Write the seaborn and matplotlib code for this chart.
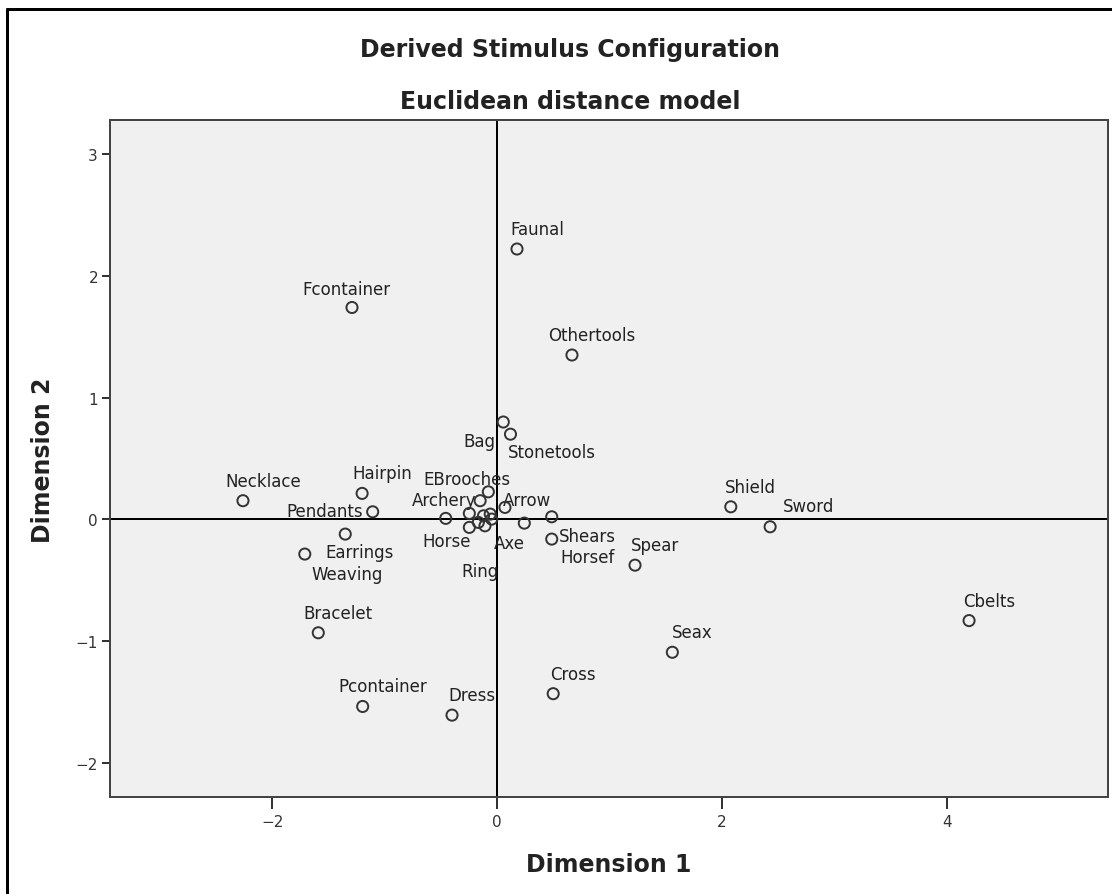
import numpy as np
import pandas as pd
import matplotlib
matplotlib.use('Agg')
import matplotlib.pyplot as plt
import seaborn as sns
from matplotlib.lines import Line2D

# Stimulus coordinates
names = ['Faunal', 'Fcontainer', 'Othertools', 'Bag', 'Stonetools', 'Necklace',
         'Hairpin', 'Pendants', 'Earrings', 'Weaving', 'Bracelet', 'Pcontainer',
         'Dress', 'Cross', 'Seax', 'Spear', 'Shield', 'Sword', 'Cbelts',
         'EBrooches', 'Arrow', 'Horse', 'Archery', 'Ring', 'Axe', 'Shears', 'Horsef',
         '', '', '', '', '', '']
dim1 = [0.178, -1.29, 0.667, 0.056, 0.12, -2.26,
        -1.20, -1.106, -1.35, -1.71, -1.59, -1.195,
        -0.40, 0.50, 1.56, 1.228, 2.08, 2.43, 4.20,
        -0.077, 0.071, -0.456, -0.246, -0.107, 0.243, 0.487, 0.487,
        -0.246, -0.15, -0.06, -0.166, -0.047, -0.12]
dim2 = [2.22, 1.74, 1.35, 0.80, 0.70, 0.154,
        0.214, 0.063, -0.12, -0.284, -0.93, -1.535,
        -1.606, -1.43, -1.09, -0.375, 0.104, -0.06, -0.83,
        0.227, 0.099, 0.009, 0.05, -0.052, -0.03, -0.161, 0.022,
        -0.065, 0.154, 0.044, -0.024, 0.003, 0.03]

x_ticks = [-2, 0, 2, 4]
y_ticks = [-2, -1, 0, 1, 2, 3]

df = pd.DataFrame({'Dimension 1': dim1, 'Dimension 2': dim2, 'name': names})

# label placement (pixels right / down from the point), default up-right
default_off = (20, -20)
label_off = {
    'Fcontainer': (-6, -18), 'Pendants': (-48, -1), 'Earrings': (14, 18),
    'Weaving': (42, 20), 'Bag': (-24, 19), 'Stonetools': (41, 18),
    'EBrooches': (-21, -13), 'Archery': (-25, -13), 'Arrow': (22, -7),
    'Horse': (1, 23), 'Axe': (-15, 20), 'Ring': (-5, 45), 'Shears': (36, -3),
    'Horsef': (36, 40), 'Sword': (38, -21),
}

W, H, DPI = 1112, 895, 100
PX = 72.0 / DPI  # points per pixel

sns.set_style('white')
plt.rcParams['font.family'] = ['DejaVu Sans']

fig = plt.figure(figsize=(W / DPI, H / DPI), dpi=DPI)
ax = fig.add_axes([110 / W, 1 - 798 / H, 998 / W, 677 / H])
ax.set_facecolor('#f0f0f0')

ax.axhline(0, color='black', lw=2 * PX, zorder=1)
ax.axvline(0, color='black', lw=2 * PX, zorder=1)

for n, x, y in zip(names, dim1, dim2):
    if not n:
        continue
    dx, dy = label_off.get(n, default_off)
    ax.annotate(n, (x, y), xytext=(dx * PX, -dy * PX), textcoords='offset points',
                ha='center', va='center', fontsize=12, color='#222222', zorder=2)

sns.scatterplot(data=df, x='Dimension 1', y='Dimension 2', ax=ax,
                marker='o', s=64, facecolors='none', edgecolor='#333333',
                linewidth=1.4, zorder=3, legend=False)

ax.set_xlim(-3.443, 5.436)
ax.set_ylim(-2.278, 3.279)
ax.set_xticks(x_ticks)
ax.set_yticks(y_ticks)
ax.set_xticklabels([str(t).replace('-', '\u2212') for t in x_ticks])
ax.set_yticklabels([str(t).replace('-', '\u2212') for t in y_ticks])
ax.set_xlabel('')
ax.set_ylabel('')
ax.tick_params(axis='x', direction='out', length=12 * PX, width=2 * PX,
               color='#333333', labelsize=11, labelcolor='#333333', pad=5 * PX,
               bottom=True)
ax.tick_params(axis='y', direction='out', length=8 * PX, width=2 * PX,
               color='#333333', labelsize=11, labelcolor='#333333', pad=4 * PX,
               left=True)
for sp in ax.spines.values():
    sp.set_color('#444444')
    sp.set_linewidth(2 * PX)

fig.text(570 / W, 1 - 57 / H, 'Derived Stimulus Configuration', ha='center',
         va='baseline', fontsize=17, fontweight='bold', color='#222222')
fig.text(570 / W, 1 - 109 / H, 'Euclidean distance model', ha='center',
         va='baseline', fontsize=17, fontweight='bold', color='#222222')
fig.text(609 / W, 1 - 872 / H, 'Dimension 1', ha='center', va='baseline',
         fontsize=17, fontweight='bold', color='#222222')
fig.text(43 / W, 1 - 460 / H, 'Dimension 2', ha='center', va='center',
         rotation=90, fontsize=17, fontweight='bold', color='#222222')

# outer frame (only top and left edges show in the screenshot)
fig.add_artist(Line2D([7 / W, 7 / W], [0, 1 - 10 / H], color='black', lw=3 * PX,
                      transform=fig.transFigure))
fig.add_artist(Line2D([7 / W, 1], [1 - 10 / H, 1 - 10 / H], color='black', lw=3 * PX,
                      transform=fig.transFigure))

fig.savefig('out.png', dpi=DPI)
